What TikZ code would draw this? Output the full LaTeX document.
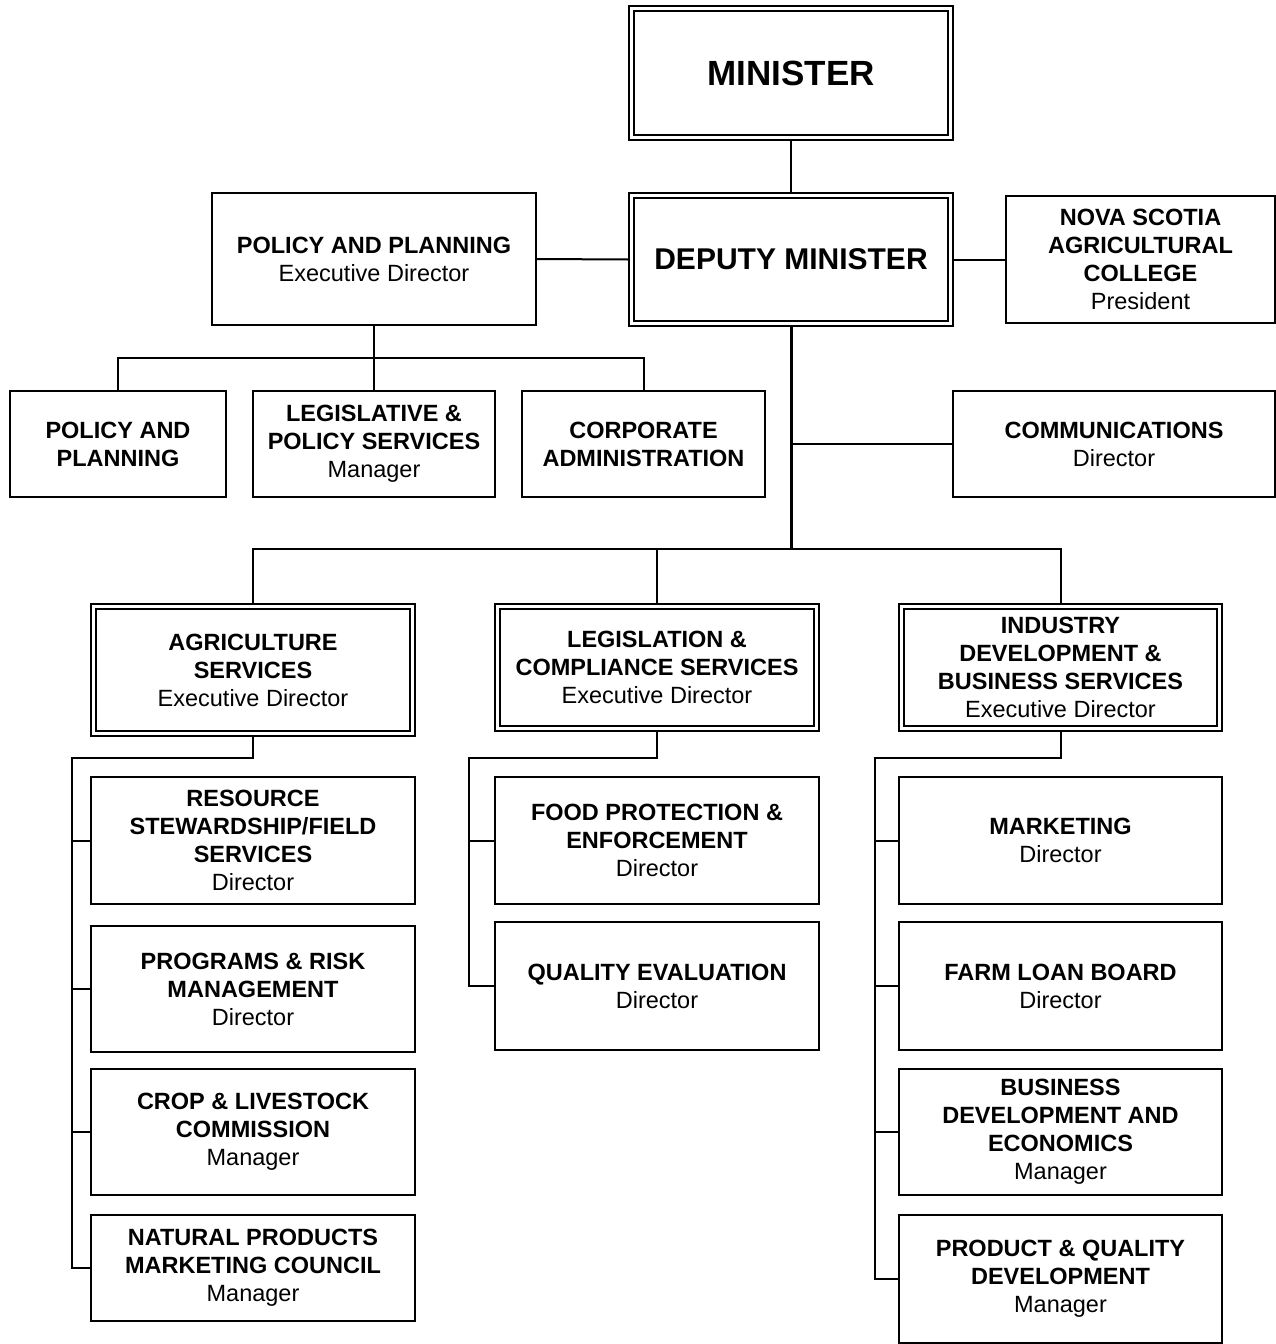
\documentclass[tikz,border=0pt]{standalone}
\usepackage{fontspec}
\setmainfont{Liberation Sans}
\begin{document}
\begin{tikzpicture}[x=1pt,y=-1pt,
  box/.style={draw,line width=1.8pt,align=center,inner sep=0pt,
    font=\fontsize{23.5}{28}\selectfont},
  outerbox/.style={box,line width=1.4pt},
  bigtext/.style={font=\fontsize{30}{36}\selectfont\bfseries},
  hugetext/.style={font=\fontsize{35}{42}\selectfont\bfseries},
  conn/.style={line width=2pt},
  trunk/.style={line width=3pt}]
\useasboundingbox (0,0) rectangle (1276,1344);
% top
\node[outerbox,hugetext,minimum width=324pt,minimum height=134pt] (mn) at (791,73) {MINISTER};
\node[outerbox,bigtext,minimum width=324pt,minimum height=133pt] (dm) at (791,259.5) {DEPUTY MINISTER};
\node[box,minimum width=324pt,minimum height=132pt] (pp) at (374,259) {\textbf{POLICY AND PLANNING}\\Executive Director};
\node[box,minimum width=269pt,minimum height=127pt] (ns) at (1140.5,259.5) {\textbf{NOVA SCOTIA}\\\textbf{AGRICULTURAL}\\\textbf{COLLEGE}\\President};
% second row
\node[box,minimum width=216pt,minimum height=106pt] (pp1) at (118,444) {\textbf{POLICY AND}\\\textbf{PLANNING}};
\node[box,minimum width=242pt,minimum height=106pt] (lps) at (374,444) {\textbf{LEGISLATIVE \&}\\\textbf{POLICY SERVICES}\\Manager};
\node[box,minimum width=243pt,minimum height=106pt] (ca) at (643.5,444) {\textbf{CORPORATE}\\\textbf{ADMINISTRATION}};
\node[box,minimum width=322pt,minimum height=106pt] (com) at (1114,444) {\textbf{COMMUNICATIONS}\\Director};
% divisions
\node[outerbox,minimum width=324pt,minimum height=132pt] (ag) at (253,670) {\textbf{AGRICULTURE}\\\textbf{SERVICES}\\Executive Director};
\node[outerbox,minimum width=324pt,minimum height=127pt] (lc) at (657,667.5) {\textbf{LEGISLATION \&}\\\textbf{COMPLIANCE SERVICES}\\Executive Director};
\node[outerbox,minimum width=323pt,minimum height=127pt] (ind) at (1060.5,667.5) {\textbf{INDUSTRY}\\\textbf{DEVELOPMENT \&}\\\textbf{BUSINESS SERVICES}\\Executive Director};
% inner borders of double boxes
\foreach \n in {mn,dm,ag,lc,ind}
  \draw[line width=2.2pt] ([shift={(6pt,-6pt)}]\n.north west) rectangle ([shift={(-6pt,6pt)}]\n.south east);
% agriculture units
\node[box,minimum width=324pt,minimum height=127pt] (rs) at (253,840.5) {\textbf{RESOURCE}\\\textbf{STEWARDSHIP/FIELD}\\\textbf{SERVICES}\\Director};
\node[box,minimum width=324pt,minimum height=126pt] (prm) at (253,989) {\textbf{PROGRAMS \& RISK}\\\textbf{MANAGEMENT}\\Director};
\node[box,minimum width=324pt,minimum height=126pt] (crop) at (253,1132) {\textbf{CROP \& LIVESTOCK}\\\textbf{COMMISSION}\\Manager};
\node[box,minimum width=324pt,minimum height=106pt] (npm) at (253,1268) {\textbf{NATURAL PRODUCTS}\\\textbf{MARKETING COUNCIL}\\Manager};
% legislation units
\node[box,minimum width=324pt,minimum height=127pt] (fp) at (657,840.5) {\textbf{FOOD PROTECTION \&}\\\textbf{ENFORCEMENT}\\Director};
\node[box,minimum width=324pt,minimum height=128pt] (qe) at (657,986) {\textbf{QUALITY EVALUATION}\\Director};
% industry units
\node[box,minimum width=323pt,minimum height=127pt] (mk) at (1060.5,840.5) {\textbf{MARKETING}\\Director};
\node[box,minimum width=323pt,minimum height=128pt] (flb) at (1060.5,986) {\textbf{FARM LOAN BOARD}\\Director};
\node[box,minimum width=323pt,minimum height=126pt] (bde) at (1060.5,1132) {\textbf{BUSINESS}\\\textbf{DEVELOPMENT AND}\\\textbf{ECONOMICS}\\Manager};
\node[box,minimum width=323pt,minimum height=128pt] (pq) at (1060.5,1279) {\textbf{PRODUCT \& QUALITY}\\\textbf{DEVELOPMENT}\\Manager};
% connectors top
\draw[conn] (mn.south) -- (dm.north);
\draw[conn] (pp.east) -- (dm.west);
\draw[conn] (dm.east) -- (ns.west);
\coordinate (b1) at (374,358);
\draw[conn] (pp.south) -- (b1);
\draw[conn] (pp1.north) |- (b1) -| (ca.north);
\draw[conn] (b1) -- (lps.north);
\coordinate (b2) at (791,549);
\draw[trunk] (dm.south) -- (b2);
\draw[conn] (com.west) -- (com.west -| b2);
\draw[conn] (ag.north) |- (b2) -| (ind.north);
\draw[conn] (lc.north) -- (lc.north |- b2);
% agriculture tree
\coordinate (a0) at (72,758);
\draw[conn] (ag.south) |- (a0) |- (npm.west);
\foreach \n in {rs,prm,crop} \draw[conn] (\n.west) -- (\n.west -| a0);
% legislation tree
\coordinate (l0) at (469,758);
\draw[conn] (lc.south) |- (l0) |- (qe.west);
\draw[conn] (fp.west) -- (fp.west -| l0);
% industry tree
\coordinate (i0) at (875,758);
\draw[conn] (ind.south) |- (i0) |- (pq.west);
\foreach \n in {mk,flb,bde} \draw[conn] (\n.west) -- (\n.west -| i0);
\end{tikzpicture}
\end{document}
